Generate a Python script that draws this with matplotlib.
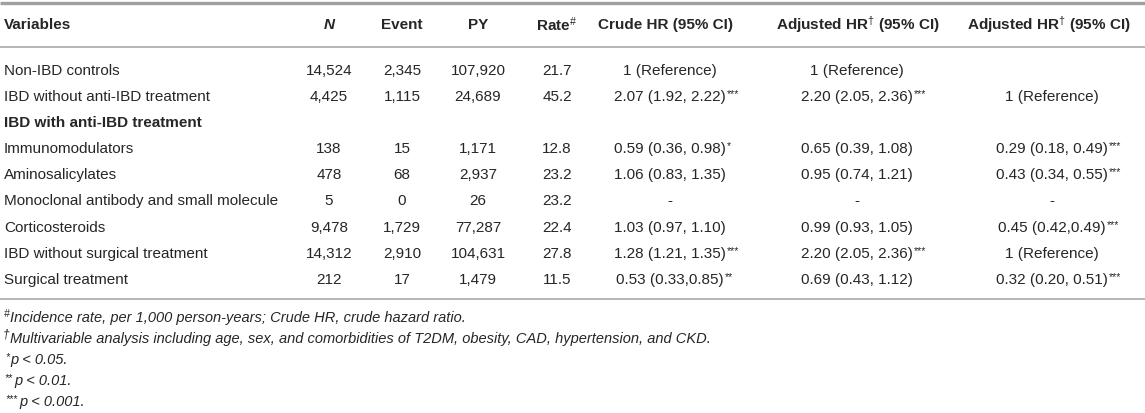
import matplotlib
matplotlib.use("Agg")
import matplotlib.pyplot as plt

plt.rcParams['font.family'] = ['Liberation Sans', 'DejaVu Sans']
plt.rcParams['mathtext.fontset'] = 'custom'
plt.rcParams['mathtext.rm'] = 'Liberation Sans'
plt.rcParams['mathtext.it'] = 'Liberation Sans:italic'
plt.rcParams['mathtext.bf'] = 'Liberation Sans:bold'

# ---------------- data ----------------
headers = ["Variables", "N", "Event", "PY", r"Rate$^{\#}$", "Crude HR (95% CI)",
           r"Adjusted HR$^{\dagger}$ (95% CI)", r"Adjusted HR$^{\dagger}$ (95% CI)"]
variables = ["Non-IBD controls", "IBD without anti-IBD treatment", "IBD with anti-IBD treatment",
             "Immunomodulators", "Aminosalicylates", "Monoclonal antibody and small molecule",
             "Corticosteroids", "IBD without surgical treatment", "Surgical treatment"]
bold_rows = [2]
n_vals = [14524, 4425, None, 138, 478, 5, 9478, 14312, 212]
event_vals = [2345, 1115, None, 15, 68, 0, 1729, 2910, 17]
py_vals = [107920, 24689, None, 1171, 2937, 26, 77287, 104631, 1479]
rate_vals = [21.7, 45.2, None, 12.8, 23.2, 23.2, 22.4, 27.8, 11.5]
crude_hr = ["1 (Reference)", "2.07 (1.92, 2.22)", "", "0.59 (0.36, 0.98)", "1.06 (0.83, 1.35)",
            "-", "1.03 (0.97, 1.10)", "1.28 (1.21, 1.35)", "0.53 (0.33,0.85)"]
crude_sig = ["", "***", "", "*", "", "", "", "***", "**"]
adj1_hr = ["1 (Reference)", "2.20 (2.05, 2.36)", "", "0.65 (0.39, 1.08)", "0.95 (0.74, 1.21)",
           "-", "0.99 (0.93, 1.05)", "2.20 (2.05, 2.36)", "0.69 (0.43, 1.12)"]
adj1_sig = ["", "***", "", "", "", "", "", "***", ""]
adj2_hr = ["", "1 (Reference)", "", "0.29 (0.18, 0.49)", "0.43 (0.34, 0.55)",
           "-", "0.45 (0.42,0.49)", "1 (Reference)", "0.32 (0.20, 0.51)"]
adj2_sig = ["", "", "", "***", "***", "", "***", "", "***"]
footnote_marks = ["#", "\u2020", "*", "**", "***"]
footnotes = ["Incidence rate, per 1,000 person-years; Crude HR, crude hazard ratio.",
             "Multivariable analysis including age, sex, and comorbidities of T2DM, obesity, CAD, hypertension, and CKD.",
             "p < 0.05.", "p < 0.01.", "p < 0.001."]

# ---------------- layout ----------------
W, H = 1145, 414
fig = plt.figure(figsize=(W / 100, H / 100), dpi=100)
ax = fig.add_axes([0, 0, 1, 1])
ax.set_xlim(0, W)
ax.set_ylim(H, 0)
ax.axis("off")

FS = 11
TC = "#262626"
head_x = [4, 329, 402, 478, 557, 666, 858, 1049]
val_x = [4, 329, 402, 478, 557, 670, 857, 1052]
header_y = 25
row_y0, row_dy = 71, 26.1
foot_y = [318, 339, 360, 381, 402]
foot_x = [10, 10, 10, 14, 19]

ax.plot([0, W], [4, 4], color="#a0a0a0", lw=2.4, solid_capstyle="butt")
ax.plot([0, W], [48, 48], color="#b0b0b0", lw=1.3, solid_capstyle="butt")
ax.plot([0, W], [300, 300], color="#b0b0b0", lw=1.3, solid_capstyle="butt")

for i, h in enumerate(headers):
    ax.text(head_x[i], header_y, h, ha="left" if i == 0 else "center", va="center",
            fontsize=FS, fontweight="bold", color=TC,
            fontstyle="italic" if h == "N" else "normal")


def cell(x, y, s, sup="", ha="center", weight="normal"):
    t = ax.text(x, y, s, ha=ha, va="center", fontsize=FS, fontweight=weight, color=TC)
    if sup:
        ax.annotate(sup, xy=(1, 0.5), xycoords=t, xytext=(0.4, 0), textcoords="offset points",
                    ha="left", va="baseline", fontsize=FS * 0.7, color=TC)
    return t


for r, name in enumerate(variables):
    y = row_y0 + r * row_dy
    cell(val_x[0], y, name, ha="left", weight="bold" if r in bold_rows else "normal")
    if n_vals[r] is not None:
        cell(val_x[1], y, f"{n_vals[r]:,}")
        cell(val_x[2], y, f"{event_vals[r]:,}")
        cell(val_x[3], y, f"{py_vals[r]:,}")
        cell(val_x[4], y, f"{rate_vals[r]:.1f}")
    if crude_hr[r]:
        cell(val_x[5], y, crude_hr[r], crude_sig[r])
    if adj1_hr[r]:
        cell(val_x[6], y, adj1_hr[r], adj1_sig[r])
    if adj2_hr[r]:
        cell(val_x[7], y, adj2_hr[r], adj2_sig[r])

for k, (m, f) in enumerate(zip(footnote_marks, footnotes)):
    t = ax.text(foot_x[k], foot_y[k], f, ha="left", va="center", fontsize=FS * 0.96,
                fontstyle="italic", color=TC)
    ax.annotate(m, xy=(0, 0.5 if k > 1 else 0.58), xycoords=t,
                xytext=(-1.2 if k > 2 else -0.3, 0),
                textcoords="offset points", ha="right", va="baseline",
                fontsize=FS * (0.68 if k != 1 else 0.78), fontstyle="italic", color=TC)

fig.savefig("out.png", dpi=100)
